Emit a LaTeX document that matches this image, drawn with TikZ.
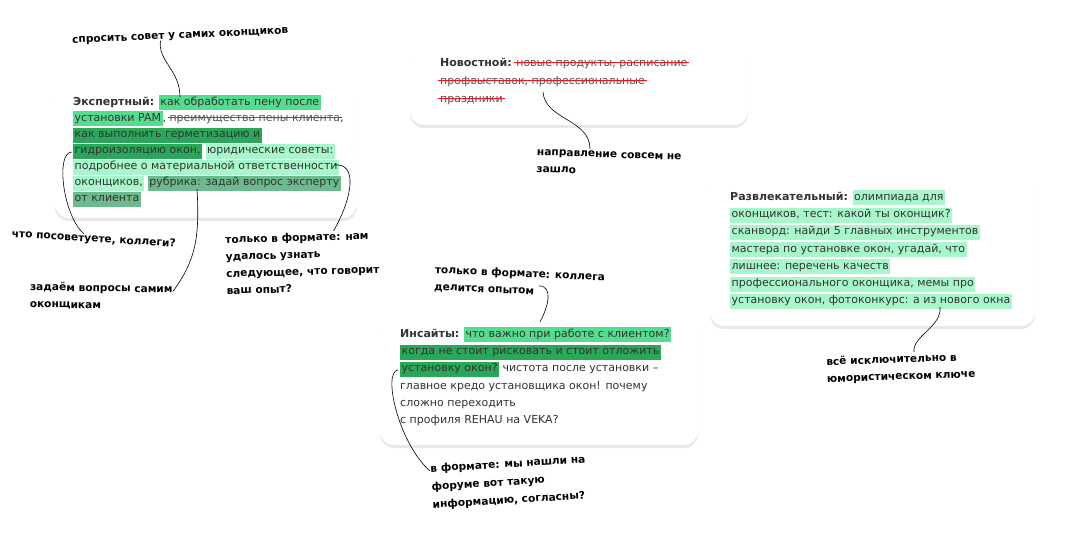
\documentclass[tikz,border=0pt]{standalone}
\usepackage{fontspec}
\setmainfont{DejaVu Sans}
\usetikzlibrary{shadows,fit}
\definecolor{midgreen}{HTML}{55DD8F}
\definecolor{deepgreen}{HTML}{2BA75A}
\definecolor{mint}{HTML}{A7F7CB}
\definecolor{sage}{HTML}{6DBB8C}
\definecolor{strikered}{HTML}{F0141E}
\definecolor{bodygray}{HTML}{333333}
\definecolor{struckgray}{HTML}{555555}
\newsavebox\strikebox
\newcommand\hl[2]{{\setlength\fboxsep{1.5pt}\colorbox{#1}{\rule[-3.6pt]{0pt}{12pt}#2}}}
\newcommand\redstrike[1]{\sbox\strikebox{\textcolor{struckgray}{#1}}\rlap{\usebox\strikebox}%
  \hspace*{-2pt}\textcolor{strikered}{\rule[0.55ex]{\dimexpr\wd\strikebox+4pt\relax}{1.3pt}}\hspace*{-2pt}}

\begin{document}
\begin{tikzpicture}[x=1pt,y=-1pt,
  every node/.style={font=\fontsize{10.6}{17}\selectfont\bfseries},
  card/.style={fill=white,rounded corners=14pt,inner sep=0pt,
    drop shadow={shadow xshift=0pt,shadow yshift=-3pt,opacity=0.18}},
  cardtext/.style={font=\fontsize{11}{17.3}\selectfont\mdseries,text=bodygray,
    align=left,anchor=north west,inner sep=0pt},
  remark/.style={align=left,anchor=north west,inner sep=0pt},
  link/.style={draw=black,line width=0.6pt}]
  \fill[white] (0,0) rectangle (1080,540);
  \useasboundingbox (0,0) rectangle (1080,540);
  % cards
  \foreach \name/\xa/\ya/\xb/\yb in {expert/55/85/357/218,news/410/45/748/125,
    fun/710/178/1035/326,insight/380/318/698/445}
    \node[card,fit={(\xa,\ya) (\xb,\yb)}] (\name) {};
  \node[cardtext,font=\fontsize{11}{16.1}\selectfont\mdseries] (experttext) at (73,95) {\textbf{Экспертный:} \hl{midgreen}{как обработать пену после}\\
    \hl{midgreen}{установки PAM}, \redstrike{преимущества пены клиента},\\
    \hl{deepgreen}{как выполнить герметизацию и}\\
    \hl{deepgreen}{гидроизоляцию окон,} \hl{mint}{юридические советы:}\\
    \hl{mint}{подробнее о материальной ответственности}\\
    \hl{mint}{оконщиков,} \hl{sage}{рубрика: задай вопрос эксперту}\\
    \hl{sage}{от клиента}};
  \node[cardtext,font=\fontsize{11}{18}\selectfont\mdseries] (newstext) at (440,58) {\textbf{Новостной:} \redstrike{новые продукты, расписание}\\
    \redstrike{профвыставок, профессиональные}\\
    \redstrike{праздники}};
  \node[cardtext] (funtext) at (730,190) {\textbf{Развлекательный:} \hl{mint}{олимпиада для}\\
    \hl{mint}{оконщиков, тест: какой ты оконщик?}\\
    \hl{mint}{сканворд: найди 5 главных инструментов}\\
    \hl{mint}{мастера по установке окон, угадай, что}\\
    \hl{mint}{лишнее: перечень качеств}\\
    \hl{mint}{профессионального оконщика, мемы про}\\
    \hl{mint}{установку окон, фотоконкурс: а из нового окна}};
  \node[cardtext] (insighttext) at (400,327) {\textbf{Инсайты:} \hl{midgreen}{что важно при работе с клиентом?}\\
    \hl{deepgreen}{когда не стоит рисковать и стоит отложить}\\
    \hl{deepgreen}{установку окон?} чистота после установки –\\
    главное кредо установщика окон! почему\\
    сложно переходить\\
    с профиля REHAU на VEKA?};
  % remarks
  \node[remark,rotate=2.5] (askown) at (72,37) {спросить совет у самих оконщиков};
  \node[remark,rotate=-3.5] (colleagues) at (12,229) {что посоветуете, коллеги?};
  \node[remark,rotate=-1] (ourselves) at (30,282) {задаём вопросы самим\\оконщикам};
  \node[remark,rotate=1.5] (learned) at (225,235) {только в формате: нам\\удалось узнать\\следующее, что говорит\\ваш опыт?};
  \node[remark,rotate=-2] (newsnote) at (537,149) {направление совсем не\\зашло};
  \node[remark,rotate=2] (humor) at (826,357) {всё исключительно в\\юмористическом ключе};
  \node[remark,rotate=-2.5] (colleagueshare) at (435,265) {только в формате: коллега\\делится опытом};
  \node[remark,rotate=3.5,font=\fontsize{10.6}{18}\selectfont\bfseries] (forum) at (430,464) {в формате: мы нашли на\\форуме вот такую\\информацию, согласны?};
  % spots in the cards
  \coordinate (expert-top) at (180,97);
  \coordinate (expert-left) at (72,152);
  \coordinate (expert-bottom) at (197,189);
  \coordinate (expert-right) at (335,165);
  \coordinate (news-mid) at (543,92);
  \coordinate (fun-bottom) at (940,307);
  \coordinate (insight-top) at (540,322);
  \coordinate (insight-left) at (398,370);
  % connectors
  \draw[link] ([xshift=-20pt]askown.south) .. controls +(-3,20) and +(0,-27) .. (expert-top);
  \draw[link] (expert-left) .. controls +(-17,0) and +(-21,-18) .. ([xshift=-10pt]colleagues.north);
  \draw[link] (expert-bottom) .. controls +(3,50) and +(22,-30) .. ([yshift=-7pt]ourselves.north east);
  \draw[link] (expert-right) .. controls +(22,-2) and +(20,-35) .. ([xshift=-45pt]learned.north east);
  \draw[link] (news-mid) .. controls +(2,28) and +(0,-30) .. ([xshift=53pt]newsnote.north west);
  \draw[link] (fun-bottom) .. controls +(2,20) and +(-2,-16) .. ([xshift=88pt,yshift=5pt]humor.north west);
  \draw[link] ([xshift=105pt,yshift=6pt]colleagueshare.south west) .. controls +(15,0) and +(8,-15) .. (insight-top);
  \draw[link] (insight-left) .. controls +(-16,2) and +(-31,-27) .. ([yshift=-7pt]forum.north west);
\end{tikzpicture}
\end{document}
